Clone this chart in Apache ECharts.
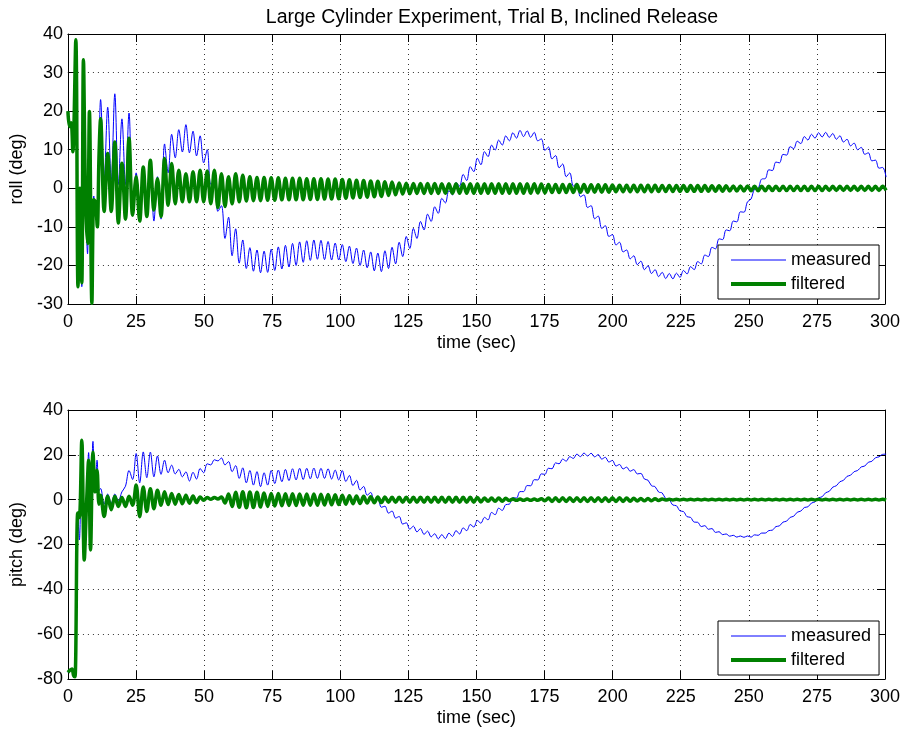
<!DOCTYPE html>
<html lang="en">
  <head>
    <meta charset="UTF-8" />
    <title>Large Cylinder Experiment, Trial B, Inclined Release</title>
    <script src="https://cdn.jsdelivr.net/npm/echarts@6/dist/echarts.min.js"></script>
    <style>
      html, body { margin: 0; padding: 0; background: #fff; }
      #main { width: 904px; height: 729px; }
    </style>
  </head>
  <body>
    <div id="main"></div>

    <script type="text/javascript">
      // tick labels
      var timeTicks = [0, 25, 50, 75, 100, 125, 150, 175, 200, 225, 250, 275, 300];
      var rollTicks = [-30, -20, -10, 0, 10, 20, 30, 40];
      var pitchTicks = [-80, -60, -40, -20, 0, 20, 40];

      // first seconds, irregular spacing (sec)
      var rollEarlyT = [0, 0.6, 1.2, 1.8, 2.9, 3.7, 4.4, 5.1, 5.7, 6.5, 7.2, 7.9, 8.8, 9.5, 10.1, 10.8, 11.4];
      var rollMeasEarly = [20, 16, 17, 11, 30.5, -25.5, -3, -25.5, 32, -5, -17, 19, -27, -2, -5, -7, 10];
      var rollFiltEarly = [20, 16, 17, 9.5, 38.5, -25.5, 0, -24.5, 33.3, -3.9, -14.3, 19.9, -29.8, -3, -3.5, -10, 8];

      var pitchEarlyT = [0, 0.8, 1.5, 2.1, 2.6, 3.6, 4.2, 5.1, 6.0, 6.8, 7.6, 8.3, 9.2, 10.0, 10.7, 11.4];
      var pitchMeasEarly = [-77, -76, -75.5, -78.5, -79, -6, -18, 26, -26, -3, 21, -22, 26, 5, 17.6, 4];
      var pitchFiltEarly = [-77, -76, -75.5, -78.5, -79, -6, -8, 26.5, -26.9, -3, 17.6, -22.4, 21.3, 3.5, 13.1, -2];

      // after 12 s: one value per half ripple period (crest / trough)
      var sampleStart = 12;
      var sampleStep = 1.305;

      var rollMeas = [
        23, 2, 21, 2, 24.5, 1, 18, 1, 19.5, -3,
        4, -7, 4.5, -6, 6, -8.5, 3, -8, 11.5, 4,
        14, 7.9, 15.2, 9.4, 16.5, 9.2, 14.8, 8.4, 13.6, 6.6,
        10, 1, 2, -6, -4.5, -13, -7.5, -17.5, -10.5, -19.4,
        -13.4, -20.8, -15.4, -21.5, -16, -21.9, -16.3, -21.8, -15.8, -21.3,
        -15.2, -20.9, -14.8, -20.4, -14.3, -20, -13.9, -19.2, -13.6, -18.7,
        -13.4, -18.4, -13.5, -18.5, -13.8, -18.6, -14.2, -18.6, -14.6, -19,
        -15, -19.5, -15.5, -20, -16, -20.6, -16.5, -21.4, -16.8, -21.6,
        -16.2, -20.8, -15.3, -19.6, -14, -17.7, -12.5, -15.6, -10.4, -13,
        -8.6, -10.8, -6.7, -8.6, -4.8, -6.5, -2.6, -3.8, -0.6, -1.7,
        1.5, 0.6, 3.6, 2, 5.6, 4.3, 7.8, 6.1, 9.5, 8.2,
        11.2, 9.9, 12.5, 11.2, 13.6, 12.3, 14.4, 13, 15, 13.4,
        14.9, 13.2, 14.5, 12.3, 12.8, 9.8, 10.7, 7.6, 8.5, 5.3,
        6.3, 3.0, 4.0, 0.6, 1.3, -2.2, -1.7, -5.0, -4.5, -7.9,
        -7.2, -10.4, -9.7, -12.5, -12.0, -14.7, -14.0, -16.5, -16.0, -18.3,
        -17.5, -19.8, -18.9, -21.1, -20.1, -22.1, -21.1, -22.9, -21.8, -23.4,
        -22.1, -23.5, -22.0, -23.1, -21.3, -22.2, -20.3, -21.1, -19.0, -19.6,
        -17.3, -17.7, -15.3, -15.7, -13.1, -13.3, -10.8, -11.0, -8.5, -8.7,
        -6.1, -6.2, -3.5, -2.8, -0.2, 0.0, 2.4, 2.5, 4.8, 4.6,
        6.8, 6.6, 8.8, 8.6, 10.8, 10.3, 12.2, 11.6, 13.4, 12.5,
        14.0, 13.0, 14.4, 13.3, 14.5, 13.2, 14.2, 12.7, 13.6, 12.0,
        12.7, 11.0, 11.7, 10.0, 10.6, 8.8, 9.2, 7.1, 7.3, 5.2,
        5.4, 2.9
      ];

      var rollFilt = [
        18, -6, 9, -6, 12, -9, 6.5, -8, 13, -7,
        3, -8.5, 5.5, -7.3, 7.3, -5.6, 2.5, -7.3, 7.7, -4.4,
        6.4, -4, 4.7, -3.5, 3.8, -3.5, 4.3, -3.5, 4.7, -3.5,
        4.5, -4, 4.7, -5, 3.8, -4.7, 3, -4, 3.8, -3.5,
        3.4, -3.3, 3, -3.2, 2.8, -3.2, 2.8, -3.1, 2.7, -3.1,
        2.7, -3, 2.6, -3, 2.6, -3, 2.6, -3, 2.5, -2.9,
        2.5, -2.9, 2.5, -2.8, 2.4, -2.8, 2.4, -2.7, 2.3, -2.6,
        2.2, -2.5, 2.1, -2.4, 2, -2.3, 1.9, -2.2, 1.8, -2.1,
        1.7, -1.9, 1.6, -1.7, 1.4, -1.5, 1.3, -1.4, 1.25, -1.35,
        1.25, -1.35, 1.25, -1.35, 1.25, -1.35, 1.2, -1.3, 1.2, -1.3,
        1.2, -1.3, 1.2, -1.3, 1.2, -1.3, 1.2, -1.3, 1.2, -1.3,
        1.2, -1.3, 1.2, -1.3, 1.2, -1.3, 1.2, -1.3, 1.2, -1.3,
        1.2, -1.3, 1.15, -1.25, 1.1, -1.2, 1.0, -1.1, 1.0, -1.1,
        1.0, -1.1, 1.0, -1.1, 0.95, -1.05, 0.95, -1.05, 0.9, -1.0,
        0.9, -1.0, 0.9, -1.0, 0.85, -0.9, 0.8, -0.9, 0.8, -0.9,
        0.8, -0.9, 0.8, -0.9, 0.8, -0.9, 0.8, -0.85, 0.75, -0.85,
        0.75, -0.85, 0.75, -0.8, 0.7, -0.8, 0.7, -0.8, 0.7, -0.8,
        0.7, -0.75, 0.65, -0.75, 0.65, -0.75, 0.65, -0.7, 0.6, -0.7,
        0.6, -0.7, 0.6, -0.65, 0.55, -0.65, 0.55, -0.65, 0.55, -0.6,
        0.55, -0.6, 0.5, -0.6, 0.5, -0.6, 0.5, -0.6, 0.5, -0.6,
        0.5, -0.6, 0.5, -0.6, 0.5, -0.55, 0.5, -0.55, 0.5, -0.55,
        0.5, -0.55, 0.5, -0.55, 0.5, -0.55, 0.5, -0.55, 0.5, -0.55,
        0.5, -0.55
      ];

      var pitchMeas = [
        5, -2, 2.5, -1.5, 2.5, -0.5, 3.5, 6, 13, 9,
        20.6, 7.5, 21.3, 9.8, 21.2, 10.2, 19.5, 11.3, 17.6, 12,
        15.4, 11.5, 13.5, 10.2, 12.4, 8.3, 12.2, 9.2, 13.9, 12,
        16, 15.5, 17.8, 17.3, 18.6, 15.5, 17, 12.5, 15.2, 9.5,
        14.2, 7.5, 13, 6.5, 12.5, 5.8, 12, 6.5, 13, 7.2,
        13.2, 8, 13.5, 8.5, 13.8, 8.8, 14, 9, 14, 9.3,
        14.1, 9.5, 14, 9.5, 13.8, 9.2, 13.2, 8.8, 13, 8.1,
        10.8, 6.3, 8.6, 4.3, 5.9, 2, 3.2, -0.5, 0.2, -3.4,
        -2.9, -6.0, -5.1, -8.2, -7.5, -10.9, -10.3, -13.2, -11.8, -14.4,
        -12.9, -15.5, -14.0, -16.6, -15.2, -17.5, -15.6, -17.4, -14.9, -16.4,
        -13.8, -15.3, -12.6, -13.8, -11.1, -12.2, -9.3, -10.5, -7.9, -9.0,
        -5.7, -6.7, -3.8, -4.8, -2.2, -2.0, 0.9, 0.7, 3.6, 3.6,
        6.3, 6.2, 8.9, 8.8, 11.5, 11.3, 14.0, 13.8, 16.4, 16.0,
        18.1, 17.2, 19.2, 18.4, 20.3, 19.2, 20.8, 19.5, 20.7, 19.1,
        20.1, 18.1, 18.9, 16.8, 17.5, 15.0, 15.7, 13.7, 14.5, 12.7,
        13.4, 11.5, 11.7, 9.2, 8.7, 6.2, 5.8, 3.4, 3.0, 0.4,
        -0.1, -2.4, -2.7, -5.0, -5.3, -7.6, -7.9, -10.0, -10.1, -12.0,
        -11.6, -13.2, -12.9, -14.6, -14.3, -15.6, -15.3, -16.3, -15.9, -16.7,
        -16.2, -16.8, -16.2, -16.7, -15.7, -15.9, -14.9, -14.9, -13.8, -13.6,
        -12.0, -11.7, -10.0, -9.6, -7.9, -7.4, -5.6, -5.1, -3.5, -3.2,
        -1.5, -1.0, 0.8, 1.3, 3.1, 3.7, 5.6, 6.2, 8.0, 8.6,
        10.4, 10.9, 12.5, 13.0, 14.6, 15.0, 16.7, 17.1, 18.7, 19.1,
        20.2, 20.3
      ];

      var pitchFilt = [
        2, -7.5, 1.5, -4.5, 1.5, -3, 1, -3, 1.5, -2.5,
        6.5, -7.6, 5.7, -5.3, 4.9, -4, 4.2, -2.5, 3.5, -2.2,
        2.8, -2, 2.3, -1.8, 2, -1.6, 1.6, -1.3, 1.2, -0.3,
        1.0, 0.2, 1.0, 0.3, 1.2, -1.5, 2.5, -3, 3.3, -3.4,
        3.5, -3.6, 3.4, -3.5, 3.3, -3.3, 3, -3, 2.8, -2.8,
        2.7, -2.7, 2.6, -2.6, 2.6, -2.6, 2.5, -2.5, 2.5, -2.5,
        2.5, -2.5, 2.4, -2.4, 2.3, -2.3, 2.2, -2.2, 2, -2,
        1.8, -1.8, 1.6, -1.7, 1.5, -1.5, 1.3, -1.4, 1.2, -1.3,
        1.2, -1.1, 1.1, -1.1, 1.1, -1.1, 1.1, -1.1, 1.1, -1.1,
        1.1, -1.1, 1.1, -1.1, 1.1, -1.1, 1.1, -1.1, 1.1, -1.1,
        1.1, -1.1, 1.1, -1.1, 1.1, -1.1, 1.0, -1.0, 0.7, -0.7,
        0.7, -0.7, 0.7, -0.7, 0.6, -0.4, 0.3, -0.3, 0.3, -0.3,
        0.3, -0.3, 0.3, -0.3, 0.4, -0.5, 0.7, -0.8, 0.8, -0.8,
        0.8, -0.8, 0.8, -0.8, 0.8, -0.8, 0.8, -0.8, 0.8, -0.8,
        0.8, -0.8, 0.8, -0.8, 0.8, -0.8, 0.8, -0.8, 0.7, -0.7,
        0.6, -0.6, 0.5, -0.5, 0.5, -0.5, 0.4, -0.4, 0.3, -0.2,
        0.15, -0.15, 0.15, -0.15, 0.15, -0.15, 0.15, -0.15, 0.15, -0.15,
        0.15, -0.15, 0.15, -0.15, 0.15, -0.15, 0.15, -0.15, 0.15, -0.15,
        0.15, -0.15, 0.15, -0.15, 0.15, -0.15, 0.15, -0.15, 0.15, -0.15,
        0.15, -0.15, 0.15, -0.15, 0.15, -0.15, 0.15, -0.15, 0.15, -0.15,
        0.15, -0.15, 0.15, -0.15, 0.15, -0.15, 0.15, -0.15, 0.15, -0.15,
        0.15, -0.15, 0.15, -0.15, 0.15, -0.15, 0.15, -0.15, 0.15, -0.15,
        0.15, -0.15
      ];

      var FONT = "'Liberation Sans', Arial, Helvetica, sans-serif";

      // [t, value] pairs: irregular start, then the regular half-period samples
      function buildSeries(earlyT, earlyV, values) {
        var pts = earlyT.map(function (t, i) { return [t, earlyV[i]]; });
        values.forEach(function (v, k) {
          pts.push([+(sampleStart + k * sampleStep).toFixed(3), v]);
        });
        return pts;
      }

      function xAxisCfg(gridIndex, pos, withLabels) {
        return {
          type: "value",
          gridIndex: gridIndex,
          position: pos,
          min: timeTicks[0],
          max: timeTicks[timeTicks.length - 1],
          interval: 25,
          name: withLabels ? "time (sec)" : "",
          nameLocation: "middle",
          nameGap: 30,
          nameTextStyle: { color: "#000", fontSize: 18, fontFamily: FONT },
          axisLine: { show: true, onZero: false, lineStyle: { color: "#000", width: 1 } },
          axisTick: { show: true, inside: true, length: 8, lineStyle: { color: "#000" } },
          axisLabel: { show: withLabels, color: "#000", fontSize: 18, fontFamily: FONT, margin: 9 },
          splitLine: {
            show: withLabels,
            lineStyle: { color: "#333", width: 1, type: [1, 4] },
          },
        };
      }

      function yAxisCfg(gridIndex, pos, ticks, step, name) {
        return {
          type: "value",
          gridIndex: gridIndex,
          position: pos,
          min: ticks[0],
          max: ticks[ticks.length - 1],
          interval: step,
          name: name || "",
          nameLocation: "middle",
          nameGap: 37,
          nameRotate: 90,
          nameTextStyle: { color: "#000", fontSize: 18, fontFamily: FONT },
          axisLine: { show: true, onZero: false, lineStyle: { color: "#000", width: 1 } },
          axisTick: { show: true, inside: true, length: 8, lineStyle: { color: "#000" } },
          axisLabel: { show: !!name, color: "#000", fontSize: 18, fontFamily: FONT, margin: 5 },
          splitLine: {
            show: !!name,
            lineStyle: { color: "#333", width: 1, type: [1, 4] },
          },
        };
      }

      function legendCfg(top) {
        return {
          data: [
            { name: "measured", lineStyle: { width: 1 } },
            { name: "filtered", lineStyle: { width: 4 } },
          ],
          orient: "vertical",
          left: 718,
          top: top,
          itemWidth: 55,
          itemHeight: 16,
          itemGap: 6,
          padding: [6, 8, 6, 11],
          backgroundColor: "#fff",
          borderColor: "#000",
          borderWidth: 1,
          borderRadius: 0,
          selectedMode: false,
          itemStyle: { opacity: 0 },
          textStyle: { color: "#000", fontSize: 18, fontFamily: FONT },
        };
      }

      var myChart = echarts.init(document.getElementById("main"), null, { renderer: "canvas" });

      var option = {
        animation: false,
        backgroundColor: "#fff",
        title: {
          text: "Large Cylinder Experiment, Trial B, Inclined Release",
          left: 487,
          top: 3,
          textAlign: "center",
          textStyle: { color: "#000", fontSize: 19.5, fontWeight: "normal", fontFamily: FONT },
        },
        legend: [legendCfg(245), legendCfg(621)],
        grid: [
          { left: 67, top: 34, width: 818, height: 270 },
          { left: 67, top: 410, width: 818, height: 269 },
        ],
        xAxis: [
          xAxisCfg(0, "bottom", true),
          xAxisCfg(0, "top", false),
          xAxisCfg(1, "bottom", true),
          xAxisCfg(1, "top", false),
        ],
        yAxis: [
          yAxisCfg(0, "left", rollTicks, 10, "roll (deg)"),
          yAxisCfg(0, "right", rollTicks, 10),
          yAxisCfg(1, "left", pitchTicks, 20, "pitch (deg)"),
          yAxisCfg(1, "right", pitchTicks, 20),
        ],
        series: [
          {
            name: "measured",
            type: "line",
            xAxisIndex: 0,
            yAxisIndex: 0,
            data: buildSeries(rollEarlyT, rollMeasEarly, rollMeas),
            symbol: "none",
            smooth: 0.35,
            lineStyle: { color: "#0000ff", width: 1 },
            itemStyle: { color: "#0000ff" },
          },
          {
            name: "filtered",
            type: "line",
            xAxisIndex: 0,
            yAxisIndex: 0,
            data: buildSeries(rollEarlyT, rollFiltEarly, rollFilt),
            symbol: "none",
            smooth: 0.35,
            lineStyle: { color: "#008000", width: 3.5 },
            itemStyle: { color: "#008000" },
          },
          {
            name: "measured",
            type: "line",
            xAxisIndex: 2,
            yAxisIndex: 2,
            data: buildSeries(pitchEarlyT, pitchMeasEarly, pitchMeas),
            symbol: "none",
            smooth: 0.35,
            lineStyle: { color: "#0000ff", width: 1 },
            itemStyle: { color: "#0000ff" },
          },
          {
            name: "filtered",
            type: "line",
            xAxisIndex: 2,
            yAxisIndex: 2,
            data: buildSeries(pitchEarlyT, pitchFiltEarly, pitchFilt),
            symbol: "none",
            smooth: 0.35,
            lineStyle: { color: "#008000", width: 3.5 },
            itemStyle: { color: "#008000" },
          },
        ],
      };

      myChart.setOption(option);
    </script>
  </body>
</html>
